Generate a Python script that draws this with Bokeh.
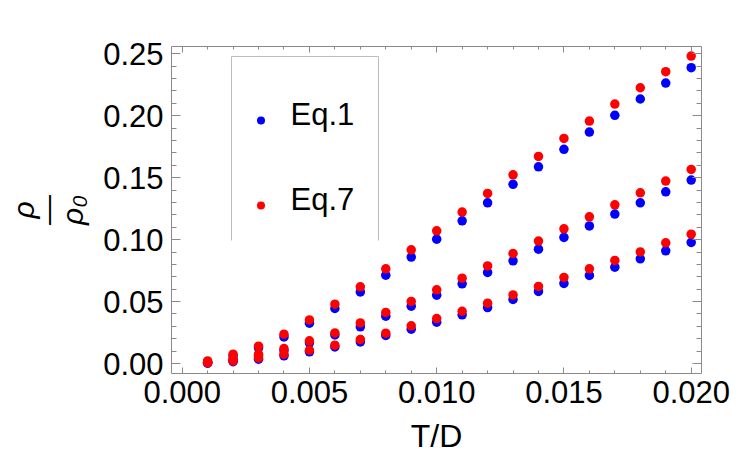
from bokeh.embed import file_html
from bokeh.models import (CustomJSTickFormatter, Label, LinearAxis,
                          NumeralTickFormatter, Range1d, SingleIntervalTicker)
from bokeh.plotting import figure
from bokeh.resources import INLINE

# ---------------------------------------------------------------- data
t_over_d = [0.001, 0.002, 0.003, 0.004, 0.005, 0.006, 0.007, 0.008, 0.009, 0.010,
            0.011, 0.012, 0.013, 0.014, 0.015, 0.016, 0.017, 0.018, 0.019, 0.020]

# upper family
eq1_upper = [0.0011, 0.0062, 0.0126, 0.0215, 0.0326, 0.0444, 0.0578, 0.0713, 0.0859, 0.1004,
             0.1152, 0.1297, 0.1446, 0.1588, 0.1729, 0.1868, 0.2003, 0.2135, 0.2264, 0.2388]
eq7_upper = [0.0021, 0.0075, 0.0140, 0.0237, 0.0352, 0.0479, 0.0619, 0.0764, 0.0918, 0.1071,
             0.1222, 0.1373, 0.1523, 0.1672, 0.1817, 0.1957, 0.2094, 0.2226, 0.2356, 0.2482]

# middle family
eq1_middle = [0.0006, 0.0030, 0.0062, 0.0105, 0.0167, 0.0231, 0.0296, 0.0382, 0.0463, 0.0552,
              0.0643, 0.0735, 0.0829, 0.0923, 0.1018, 0.1111, 0.1206, 0.1297, 0.1386, 0.1481]
eq7_middle = [0.0010, 0.0040, 0.0075, 0.0121, 0.0183, 0.0247, 0.0328, 0.0412, 0.0501, 0.0595,
              0.0689, 0.0788, 0.0888, 0.0988, 0.1087, 0.1184, 0.1281, 0.1378, 0.1473, 0.1567]

# lower family
eq1_lower = [0.0003, 0.0015, 0.0035, 0.0062, 0.0094, 0.0134, 0.0174, 0.0226, 0.0277, 0.0334,
             0.0393, 0.0452, 0.0517, 0.0582, 0.0646, 0.0711, 0.0778, 0.0845, 0.0910, 0.0977]
eq7_lower = [0.0006, 0.0021, 0.0045, 0.0075, 0.0107, 0.0148, 0.0194, 0.0245, 0.0304, 0.0363,
             0.0422, 0.0487, 0.0554, 0.0622, 0.0695, 0.0764, 0.0832, 0.0901, 0.0974, 0.1044]

series_names = ["Eq.1", "Eq.7"]
series_colors = ["#0000ff", "#ff0000"]

x_title = "T/D"
y_title = "ρ\n—\nρ₀"     # stacked fraction rho over rho_0

x_ticks_step = 0.005
y_ticks_step = 0.05

# ---------------------------------------------------------------- layout
W, H = 750, 467
FL, FR, FT, FB = 171, 701, 46, 373          # frame edges in canvas pixels
X0, X1 = -0.00042, 0.020405
Y0, Y1 = -0.00806, 0.25589

FONT = "Liberation Sans"
FRAME_COLOR = "#8a8a8a"


def px_to_x(px):
    return X0 + (px - FL) / (FR - FL) * (X1 - X0)


def py_to_y(py):
    return Y1 - (py - FT) / (FB - FT) * (Y1 - Y0)


p = figure(width=W, height=H, x_range=Range1d(X0, X1), y_range=Range1d(Y0, Y1),
           output_backend="svg", toolbar_location=None,
           x_axis_type=None, y_axis_type=None,
           min_border_left=FL, min_border_right=W - FR,
           min_border_top=FT, min_border_bottom=H - FB)
p.outline_line_color = None
p.background_fill_color = "white"
p.border_fill_color = "white"


def frame_axis(step, fmt, show_labels, major_len, minor_len):
    ax = LinearAxis(ticker=SingleIntervalTicker(interval=step, num_minor_ticks=5))
    ax.axis_line_color = FRAME_COLOR
    ax.axis_line_width = 1
    ax.major_tick_line_color = FRAME_COLOR
    ax.minor_tick_line_color = FRAME_COLOR
    ax.major_tick_in = major_len
    ax.major_tick_out = 0
    ax.minor_tick_in = minor_len
    ax.minor_tick_out = 0
    if show_labels:
        ax.formatter = NumeralTickFormatter(format=fmt)
        ax.major_label_text_font = FONT
        ax.major_label_text_font_size = "31px"
        ax.major_label_text_color = "black"
    else:
        ax.formatter = CustomJSTickFormatter(code="return ''")
        ax.major_label_text_font_size = "1px"
    return ax


x_bottom = frame_axis(x_ticks_step, "0.000", True, 6, 3)
x_bottom.major_label_standoff = 7
x_bottom.axis_label = x_title
x_bottom.axis_label_text_font = FONT
x_bottom.axis_label_text_font_size = "32px"
x_bottom.axis_label_text_font_style = "normal"
x_bottom.axis_label_text_color = "black"
x_bottom.axis_label_standoff = 12

x_top = frame_axis(x_ticks_step, "0.000", False, 6, 3)

y_left = frame_axis(y_ticks_step, "0.00", True, 9, 5)
y_left.major_label_standoff = 8
y_left.axis_label = y_title
y_left.axis_label_text_font = FONT
y_left.axis_label_text_font_size = "30px"
y_left.axis_label_text_font_style = "italic"
y_left.axis_label_text_color = "black"
y_left.axis_label_text_line_height = 0.75
y_left.axis_label_standoff = 11

y_right = frame_axis(y_ticks_step, "0.00", False, 9, 5)

p.add_layout(x_bottom, "below")
p.add_layout(x_top, "above")
p.add_layout(y_left, "left")
p.add_layout(y_right, "right")

# ---------------------------------------------------------------- points
for ys in (eq1_upper, eq1_middle, eq1_lower):
    p.scatter(t_over_d, ys, size=9.5, fill_color=series_colors[0], line_color=None)
for ys in (eq7_upper, eq7_middle, eq7_lower):
    p.scatter(t_over_d, ys, size=9.5, fill_color=series_colors[1], line_color=None)

# ---------------------------------------------------------------- legend
box_l, box_r, box_t, box_b = 231, 378, 56, 240
p.line([px_to_x(box_l), px_to_x(box_l), px_to_x(box_r), px_to_x(box_r)],
       [py_to_y(box_b), py_to_y(box_t), py_to_y(box_t), py_to_y(box_b)],
       line_color="#bdbdbd", line_width=1)

legend_rows = [120, 205]          # marker centres (canvas y)
legend_baselines = [114, 199]     # text baselines (canvas y)
for name, color, my, ty in zip(series_names, series_colors, legend_rows, legend_baselines):
    p.scatter([px_to_x(260.5)], [py_to_y(my)], size=8, fill_color=color, line_color=None)
    p.add_layout(Label(x=px_to_x(290), y=py_to_y(ty), text=name,
                       text_font=FONT, text_font_size="31px",
                       text_align="left", text_baseline="alphabetic",
                       text_color="black"))

with open("out.html", "w") as f:
    f.write(file_html(p, INLINE))
